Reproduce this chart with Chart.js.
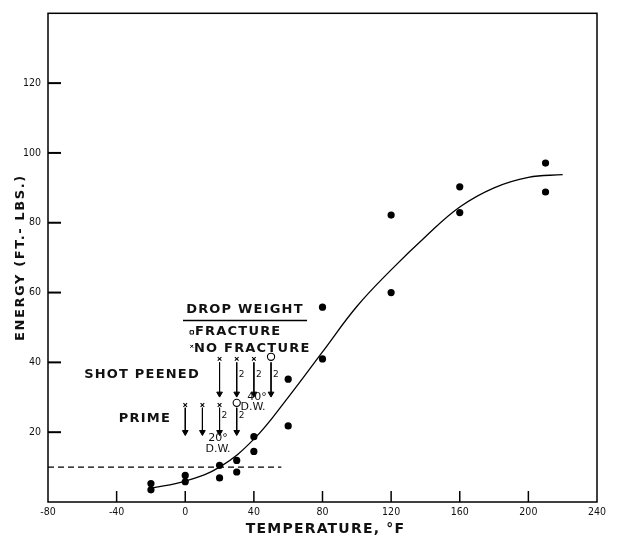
<!DOCTYPE html>
<html>
<head>
<meta charset="utf-8">
<script src="https://cdn.jsdelivr.net/npm/chart.js@4.4.0/dist/chart.umd.min.js"></script>
<style>
  html, body { margin: 0; padding: 0; background: #fff; }
  #wrap { width: 617px; height: 537px; }
</style>
</head>
<body>
<div id="wrap"><canvas id="myChart" width="617" height="537"></canvas></div>
<script>
// impact test points (deg F, ft-lbs)
const tempPoints = [-20, -20, 0, 0, 20, 20, 30, 30, 40, 40, 60, 60, 80, 80, 120, 120, 160, 160, 210, 210];
const energyPoints = [5.3, 3.5, 7.6, 5.8, 10.5, 6.9, 11.9, 8.6, 18.7, 14.5, 35.2, 21.8, 55.8, 41.0, 82.2, 60.0, 90.3, 82.9, 97.1, 88.8];

// faired transition curve
const curveTemps = [-20, 0, 20, 40, 60, 80, 100, 120, 140, 160, 180, 200, 220];
const curveEnergy = [4, 6, 10, 18, 30, 43, 56, 66.5, 76, 84.5, 90, 93, 93.8];

// dashed reference level
const dashTemps = [-80, 56];
const dashEnergy = [10, 10];

// drop weight arrows
const shotTemps = [20, 30, 40, 50];
const shotMarks = ['x', 'x', 'x', 'o'];
const shotCount = ['', '2', '2', '2'];
const shotTop = 40, shotTip = 31, shotMarkY = 41, shotCountY = 36.5;

const primeTemps = [0, 10, 20, 30];
const primeMarks = ['x', 'x', 'x', 'o'];
const primeCount = ['', '', '2', '2'];
const primeTop = 27, primeTip = 20, primeMarkY = 27.8, primeCountY = 24.7;

const xTicks = [-80, -40, 0, 40, 80, 120, 160, 200, 240];
const yTicks = [20, 40, 60, 80, 100, 120];

const xTitle = 'TEMPERATURE, °F';
const yTitle = 'ENERGY (FT.- LBS.)';

// text notes: [text, temp, energy, align, font]
const notes = [
  ['DROP WEIGHT', 34.8, 55.0, 'center', 'big'],
  ['FRACTURE', 5.7, 48.9, 'left', 'big'],
  ['NO FRACTURE', 5.1, 43.8, 'left', 'big'],
  ['SHOT PEENED', -25.2, 36.5, 'center', 'big'],
  ['PRIME', -23.5, 24.0, 'center', 'big'],
  ['40°', 41.8, 30.0, 'center', 'small'],
  ['D.W.', 39.5, 27.1, 'center', 'small'],
  ['20°', 19.1, 18.4, 'center', 'small'],
  ['D.W.', 19.1, 15.0, 'center', 'small']
];
const underline = { from: -1.3, to: 71.0, y: 52.0 };

function pairs(xs, ys) {
  const out = [];
  for (let i = 0; i < xs.length; i += 1) out.push({ x: xs[i], y: ys[i] });
  return out;
}

const datasets = [];
datasets.push({
  data: pairs(tempPoints, energyPoints),
  pointStyle: 'circle', pointRadius: 3.6, backgroundColor: '#000', borderColor: '#000', borderWidth: 0
});
datasets.push({
  data: pairs(curveTemps, curveEnergy), showLine: true, pointRadius: 0,
  borderColor: '#000', borderWidth: 1.3, tension: 0.4
});
datasets.push({
  data: pairs(dashTemps, dashEnergy), showLine: true, pointRadius: 0,
  borderColor: '#000', borderWidth: 1.3, borderDash: [6, 4]
});

function addArrows(temps, marks, top, tip, markY) {
  for (let i = 0; i < temps.length; i += 1) {
    datasets.push({
      data: [{ x: temps[i], y: top }, { x: temps[i], y: tip }],
      showLine: true, borderColor: '#000', borderWidth: 1,
      pointStyle: 'triangle', rotation: 180, pointRadius: [0, 3.3],
      backgroundColor: '#000'
    });
    const isO = marks[i] === 'o';
    datasets.push({
      data: [{ x: temps[i], y: isO ? markY + 0.6 : markY }],
      pointStyle: isO ? 'circle' : 'crossRot', pointRadius: isO ? 3.6 : 2.6,
      backgroundColor: '#fff', borderColor: '#000', borderWidth: 1.1
    });
  }
}
addArrows(shotTemps, shotMarks, shotTop, shotTip, shotMarkY);
addArrows(primeTemps, primeMarks, primeTop, primeTip, primeMarkY);

// key symbols in front of FRACTURE / NO FRACTURE
datasets.push({
  data: [{ x: 3.8, y: 48.6 }], pointStyle: 'rect', pointRadius: 2.4,
  backgroundColor: '#fff', borderColor: '#000', borderWidth: 1
});
datasets.push({
  data: [{ x: 3.8, y: 44.6 }], pointStyle: 'crossRot', pointRadius: 2,
  borderColor: '#000', borderWidth: 1
});

const paperPlugin = {
  id: 'paper',
  afterDatasetsDraw(chart) {
    const ctx = chart.ctx;
    const xs = chart.scales.x, ys = chart.scales.y;
    const a = chart.chartArea;
    ctx.save();
    ctx.strokeStyle = '#000';
    // frame
    ctx.lineWidth = 1.5;
    ctx.strokeRect(a.left, a.top, a.right - a.left, a.bottom - a.top);
    // inward ticks
    ctx.lineWidth = 2;
    yTicks.forEach(v => {
      const py = ys.getPixelForValue(v);
      ctx.beginPath(); ctx.moveTo(a.left, py); ctx.lineTo(a.left + 13, py); ctx.stroke();
    });
    ctx.lineWidth = 1.5;
    xTicks.slice(1, -1).forEach(v => {
      const px = xs.getPixelForValue(v);
      ctx.beginPath(); ctx.moveTo(px, a.bottom); ctx.lineTo(px, a.bottom - 11); ctx.stroke();
    });
    // underline
    ctx.lineWidth = 1.6;
    const uy = ys.getPixelForValue(underline.y);
    ctx.beginPath();
    ctx.moveTo(xs.getPixelForValue(underline.from), uy);
    ctx.lineTo(xs.getPixelForValue(underline.to), uy);
    ctx.stroke();
    // notes
    ctx.fillStyle = '#111';
    ctx.textBaseline = 'middle';
    notes.forEach(n => {
      if (n[4] === 'big') {
        ctx.font = 'bold 13px "DejaVu Sans", sans-serif';
        ctx.letterSpacing = '1.2px';
      } else {
        ctx.font = '11px "DejaVu Sans", sans-serif';
        ctx.letterSpacing = '0px';
      }
      ctx.textAlign = n[3];
      ctx.fillText(n[0], xs.getPixelForValue(n[1]), ys.getPixelForValue(n[2]));
    });
    // "2" counts beside arrows
    ctx.letterSpacing = '0px';
    ctx.font = '9px "DejaVu Sans", sans-serif';
    ctx.textAlign = 'left';
    shotTemps.forEach((t, i) => {
      if (shotCount[i]) ctx.fillText(shotCount[i], xs.getPixelForValue(t) + 2, ys.getPixelForValue(shotCountY));
    });
    primeTemps.forEach((t, i) => {
      if (primeCount[i]) ctx.fillText(primeCount[i], xs.getPixelForValue(t) + 2, ys.getPixelForValue(primeCountY));
    });
    // axis titles
    ctx.textAlign = 'center';
    ctx.font = 'bold 14px "DejaVu Sans", sans-serif';
    ctx.letterSpacing = '1.2px';
    ctx.fillText(xTitle, (a.left + a.right) / 2 + 3, 529);
    ctx.translate(21, (a.top + a.bottom) / 2);
    ctx.rotate(-Math.PI / 2);
    ctx.font = 'bold 13px "DejaVu Sans", sans-serif';
    ctx.letterSpacing = '1.6px';
    ctx.fillText(yTitle, 0, 0);
    ctx.restore();
  }
};

const tickFont = { family: '"Liberation Sans Narrow", "DejaVu Sans Condensed", sans-serif', size: 10.5 };

const ctx = document.getElementById('myChart').getContext('2d');
const myChart = new Chart(ctx, {
  type: 'scatter',
  data: { datasets: datasets },
  plugins: [paperPlugin],
  options: {
    responsive: false,
    animation: false,
    layout: { padding: { top: 7, right: 20, left: 0, bottom: 0 } },
    plugins: { legend: { display: false }, tooltip: { enabled: false } },
    scales: {
      x: {
        type: 'linear', min: -80, max: 240,
        afterFit: s => { s.height = 35; },
        afterBuildTicks: s => { s.ticks = xTicks.map(v => ({ value: v })); },
        grid: { display: false, drawTicks: false },
        border: { display: false },
        ticks: { font: tickFont, color: '#111', padding: 4, maxRotation: 0, autoSkip: false }
      },
      y: {
        type: 'linear', min: 0, max: 140,
        afterFit: s => { s.width = 48; },
        afterBuildTicks: s => { s.ticks = yTicks.map(v => ({ value: v })); },
        grid: { display: false, drawTicks: false },
        border: { display: false },
        ticks: { font: tickFont, color: '#111', padding: 7, autoSkip: false }
      }
    }
  }
});
</script>
</body>
</html>
